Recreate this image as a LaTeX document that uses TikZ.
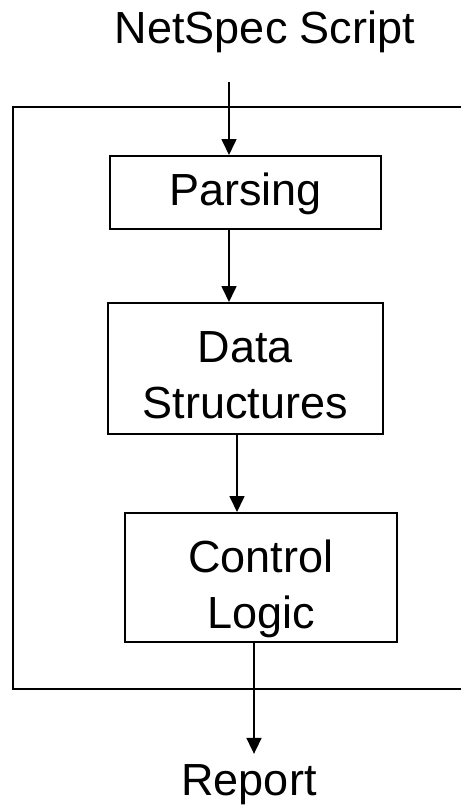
\documentclass[tikz,border=0pt]{standalone}
\usepackage{fontspec}
\setmainfont{Liberation Sans}
\usetikzlibrary{arrows.meta}
% two centred lines, baseline at the last line
\newcommand\twoline[2]{\vbox{\hsize=260pt\baselineskip=56pt\centerline{#1}\centerline{#2}}}
\begin{document}
\begin{tikzpicture}[x=1pt,y=-1pt,
  every node/.style={font=\fontsize{45}{56}\selectfont},
  block/.style={draw,line width=2pt,inner sep=0pt},
  flow/.style={line width=1.7pt,-{Triangle[width=15pt,length=16pt]}},
  frame/.style={line width=2pt}]
\useasboundingbox (0,0) rectangle (461,806);
\fill[white] (0,0) rectangle (461,806);
% enclosing frame, open at the right
\draw[frame] (461,107) -- (13,107) -- (13,689) -- (461,689);
% labels and blocks
\node[anchor=base,inner sep=0pt] (src) at (265,43) {NetSpec Script};
\node[block,minimum width=271pt,minimum height=73pt,text height=33pt,text depth=8pt] (parse) at (245.5,192.5) {Parsing};
\node[block,minimum width=275pt,minimum height=131pt,text height=109pt,text depth=10pt] (ds) at (245.5,368.5) {\twoline{Data}{Structures}};
\node[block,minimum width=272pt,minimum height=129pt,text height=111pt,text depth=10pt] (cl) at (261,577.5) {\twoline{Control}{Logic}};
\node[anchor=base,inner sep=0pt] (rep) at (249,795) {Report};
\coordinate (in) at (229,82);
% data flow
\draw[flow] (in) -- (in |- parse.north);
\draw[flow] ([xshift=-16.5pt]parse.south) coordinate (p1) -- (p1 |- ds.north);
\draw[flow] ([xshift=-8.5pt]ds.south) coordinate (p2) -- (p2 |- cl.north);
\draw[flow,shorten >=10pt] ([xshift=-7pt]cl.south) coordinate (p3) -- (p3 |- rep.north);
\end{tikzpicture}
\end{document}
